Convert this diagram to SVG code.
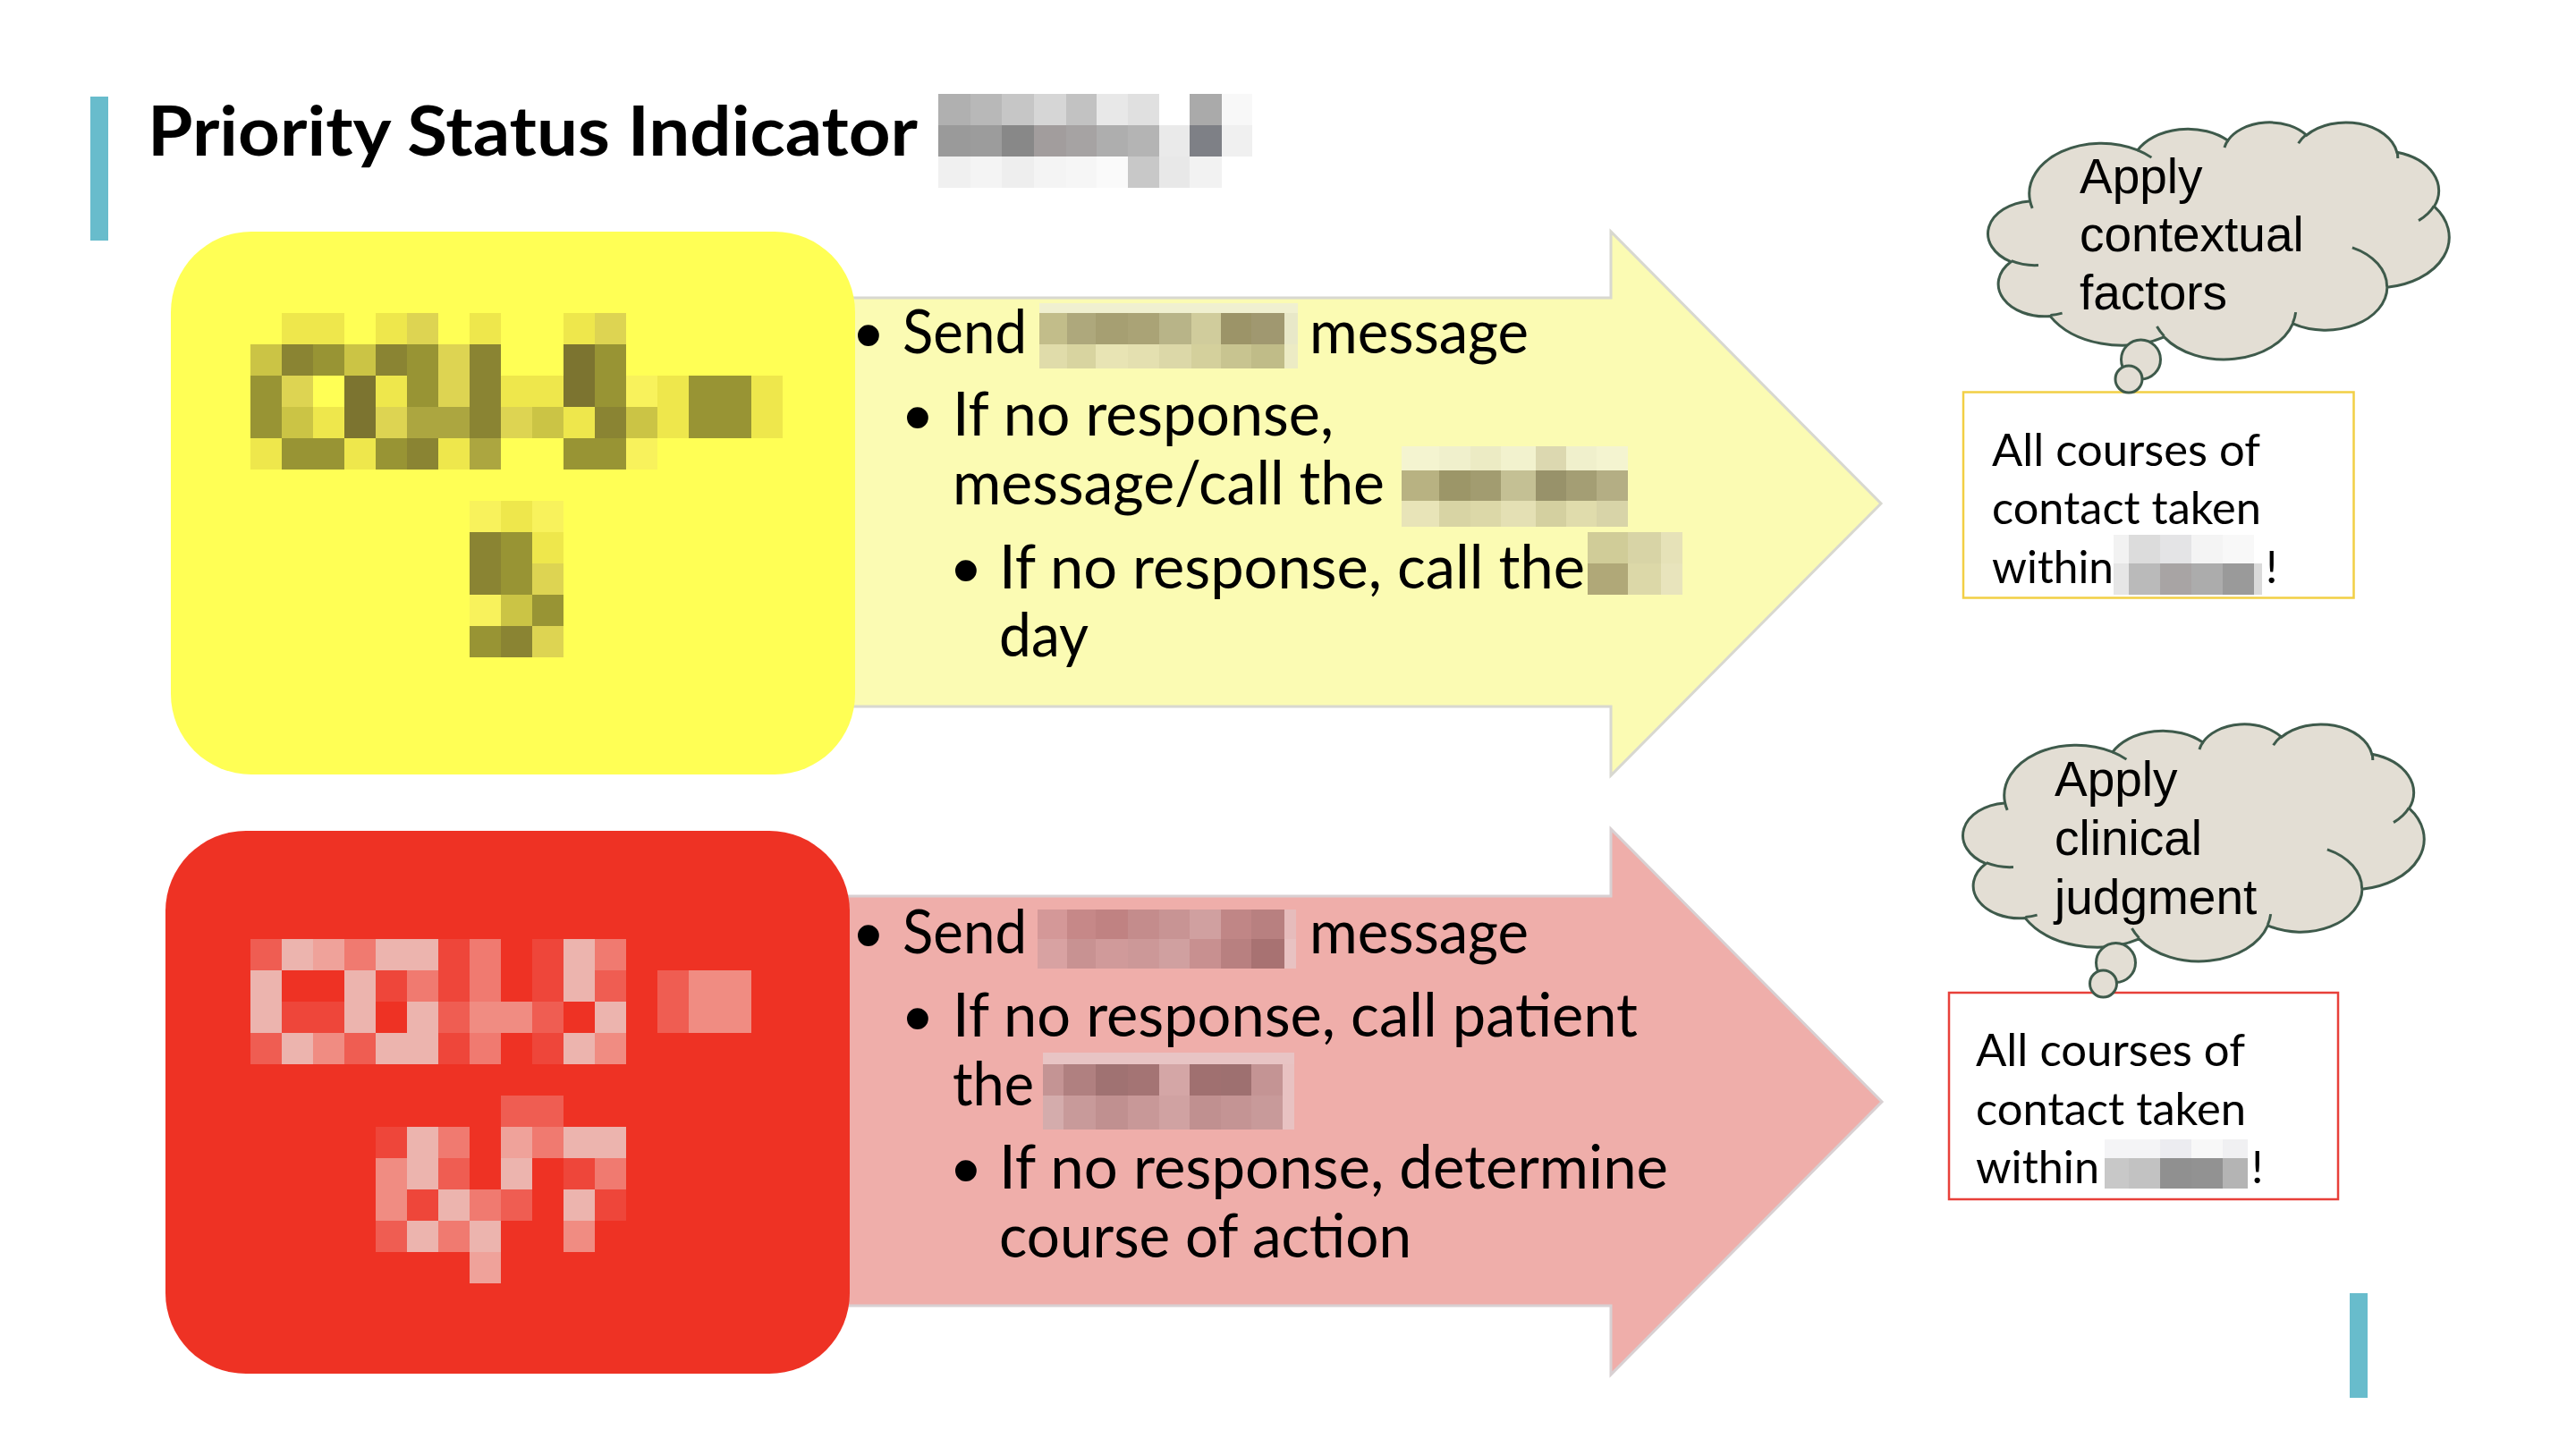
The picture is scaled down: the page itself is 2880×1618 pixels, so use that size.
<svg xmlns="http://www.w3.org/2000/svg" width="2880" height="1618" viewBox="0 0 2880 1618">
  <style>
    .ttl{font-family:Lato,"Open Sans","Liberation Sans",sans-serif;font-weight:700;font-size:77px;fill:#000}
    .bt{font-family:Lato,"Open Sans","Liberation Sans",sans-serif;font-size:67px;fill:#000}
    .bul{font-family:"Liberation Sans",Arial,sans-serif;font-size:88px;fill:#000;text-anchor:middle}
    .cl{font-family:"Liberation Sans",Arial,sans-serif;font-size:55px;fill:#000}
    .bx{font-family:Lato,"Open Sans","Liberation Sans",sans-serif;font-size:50px;fill:#000}
    .accent{fill:#68bccc}
    .cloud{fill:#e3ded4;stroke:#3e5a4b;stroke-width:3}
    .cloud-in{fill:none;stroke:#3e5a4b;stroke-width:3}
    .bubble{fill:#e3ded4;stroke:#3e5a4b;stroke-width:3}
    .arrow-y{fill:#fbfbb3;stroke:#d8d8d0;stroke-width:3}
    .arrow-r{fill:#efaeaa;stroke:#d8d0d2;stroke-width:3}
    .ya{fill:#f8f25c}.yb{fill:#eee74c}.yc{fill:#ddd452}.yd{fill:#cbc445}
    .ye{fill:#aca640}.yf{fill:#989434}.yg{fill:#8a8433}.yh{fill:#7c7430}
    .ra{fill:#ecb4ae}.rb{fill:#efa29a}.rc{fill:#f08c82}.rd{fill:#f07a70}
    .re{fill:#ef5d52}.rf{fill:#ee463a}
  </style>
  <defs>
    <!-- cloud outline in a 43200 x 43200 frame -->
    <path id="cloudShape" class="cloud" vector-effect="non-scaling-stroke" d="M3900 14370A6753 9190 0 0 1 14004 5202A5333 7267 0 0 1 22455 3432A4365 5945 0 0 1 29833 2481A4857 6595 0 0 1 38318 5577A5333 7273 0 0 1 41818 15461A6775 9220 0 0 1 37404 30203A5785 7867 0 0 1 28555 36813A6752 9215 0 0 1 16480 39266A7720 10543 0 0 1 5802 35470A4360 5918 0 0 1 2111 25548A4345 5945 0 0 1 3862 14504Z"/>
    <path id="cloudInner" class="cloud-in" vector-effect="non-scaling-stroke" d="M4693 26177A4345 5945 0 0 1 2160 25380M6928 34899A4360 5918 0 0 1 5820 35281M16478 39090A6752 9215 0 0 1 15810 37348M28827 34751A6752 9215 0 0 1 28560 36660M34129 22954A5785 7867 0 0 1 37380 30090M41798 15354A5333 7273 0 0 1 40350 18030M38324 5426A4857 6595 0 0 1 38400 6690M29078 3952A4857 6595 0 0 1 29820 2338M22141 4720A4365 5945 0 0 1 22500 3330M14000 5192A6753 9190 0 0 1 15301 6541M4127 15789A6753 9190 0 0 1 3900 14371"/>
  </defs>

  <rect x="0" y="0" width="2880" height="1618" fill="#ffffff"/>

  <!-- heading -->
  <g id="title">
    <rect class="accent" x="101" y="108" width="20" height="161"/>
    <text class="ttl" x="165" y="174" textLength="861" lengthAdjust="spacingAndGlyphs">Priority Status Indicator</text>
    <g id="title-mosaic">
      <rect x="1049" y="105" width="36" height="35" fill="#b0b0b0"/>
      <rect x="1085" y="105" width="35" height="35" fill="#b8b8b8"/>
      <rect x="1120" y="105" width="36" height="35" fill="#c6c6c6"/>
      <rect x="1156" y="105" width="36" height="35" fill="#d6d6d6"/>
      <rect x="1192" y="105" width="34" height="35" fill="#c2c2c2"/>
      <rect x="1226" y="105" width="35" height="35" fill="#e8e8e8"/>
      <rect x="1261" y="105" width="35" height="35" fill="#e0e0e0"/>
      <rect x="1330" y="105" width="36" height="35" fill="#aaaaaa"/>
      <rect x="1366" y="105" width="34" height="35" fill="#f8f8f8"/>
      <rect x="1049" y="140" width="36" height="35" fill="#9a9a9a"/>
      <rect x="1085" y="140" width="35" height="35" fill="#9c9c9c"/>
      <rect x="1120" y="140" width="36" height="35" fill="#888888"/>
      <rect x="1156" y="140" width="36" height="35" fill="#a29d9d"/>
      <rect x="1192" y="140" width="34" height="35" fill="#a6a3a3"/>
      <rect x="1226" y="140" width="35" height="35" fill="#aeaeae"/>
      <rect x="1261" y="140" width="35" height="35" fill="#b4b4b4"/>
      <rect x="1296" y="140" width="34" height="35" fill="#eaeaea"/>
      <rect x="1330" y="140" width="36" height="35" fill="#7e8086"/>
      <rect x="1366" y="140" width="34" height="35" fill="#f0f0f0"/>
      <rect x="1049" y="175" width="36" height="35" fill="#f0f0f0"/>
      <rect x="1085" y="175" width="35" height="35" fill="#f4f4f4"/>
      <rect x="1120" y="175" width="36" height="35" fill="#eeeeee"/>
      <rect x="1156" y="175" width="36" height="35" fill="#f4f4f4"/>
      <rect x="1192" y="175" width="34" height="35" fill="#f6f6f6"/>
      <rect x="1226" y="175" width="35" height="35" fill="#fafafa"/>
      <rect x="1261" y="175" width="35" height="35" fill="#c8c8c8"/>
      <rect x="1296" y="175" width="34" height="35" fill="#e8e8e8"/>
      <rect x="1330" y="175" width="36" height="35" fill="#f2f2f2"/>
    </g>
  </g>

  <!-- yellow block arrow with steps -->
  <g id="steps-yellow">
    <path class="arrow-y" d="M900 333H1801V259L2103 563L1801 867V790H900Z"/>
    <text class="bul" x="971" y="404">•</text>
    <text class="bt" x="1009" y="395" textLength="139" lengthAdjust="spacingAndGlyphs">Send</text>
    <g id="mosaic-ya">
      <rect x="1162" y="339" width="289" height="11" fill="#f0f0d0"/>
      <rect x="1162" y="350" width="31" height="35" fill="#c2bd8a"/>
      <rect x="1193" y="350" width="32" height="35" fill="#aea87c"/>
      <rect x="1225" y="350" width="36" height="35" fill="#a69f72"/>
      <rect x="1261" y="350" width="35" height="35" fill="#aaa376"/>
      <rect x="1296" y="350" width="36" height="35" fill="#b8b488"/>
      <rect x="1332" y="350" width="33" height="35" fill="#d0cc9c"/>
      <rect x="1365" y="350" width="34" height="35" fill="#9c9468"/>
      <rect x="1399" y="350" width="37" height="35" fill="#a09870"/>
      <rect x="1436" y="350" width="15" height="35" fill="#e8e8c8"/>
      <rect x="1162" y="385" width="31" height="27" fill="#e0dcaa"/>
      <rect x="1193" y="385" width="32" height="27" fill="#d8d4a0"/>
      <rect x="1225" y="385" width="36" height="27" fill="#e8e4b4"/>
      <rect x="1261" y="385" width="35" height="27" fill="#e4e0b0"/>
      <rect x="1296" y="385" width="36" height="27" fill="#dcd8a8"/>
      <rect x="1332" y="385" width="33" height="27" fill="#d4d09c"/>
      <rect x="1365" y="385" width="34" height="27" fill="#c8c490"/>
      <rect x="1399" y="385" width="37" height="27" fill="#c0bc88"/>
      <rect x="1436" y="385" width="15" height="27" fill="#ecebc4"/>
    </g>
    <text class="bt" x="1464" y="395" textLength="245" lengthAdjust="spacingAndGlyphs">message</text>
    <text class="bul" x="1026" y="496">•</text>
    <text class="bt" x="1065" y="487" textLength="426" lengthAdjust="spacingAndGlyphs">If no response,</text>
    <text class="bt" x="1065" y="564" textLength="483" lengthAdjust="spacingAndGlyphs">message/call the</text>
    <g id="mosaic-yb">
      <rect x="1567" y="499" width="42" height="27" fill="#f4f4d0"/>
      <rect x="1609" y="499" width="35" height="27" fill="#f0f0cc"/>
      <rect x="1644" y="499" width="34" height="27" fill="#ecebc4"/>
      <rect x="1678" y="499" width="39" height="27" fill="#f2f2ce"/>
      <rect x="1717" y="499" width="34" height="27" fill="#dcd8b0"/>
      <rect x="1751" y="499" width="34" height="27" fill="#f0f0cc"/>
      <rect x="1785" y="499" width="35" height="27" fill="#f4f4d0"/>
      <rect x="1567" y="526" width="42" height="34" fill="#b8b282"/>
      <rect x="1609" y="526" width="35" height="34" fill="#9c9668"/>
      <rect x="1644" y="526" width="34" height="34" fill="#a29c70"/>
      <rect x="1678" y="526" width="39" height="34" fill="#c4c094"/>
      <rect x="1717" y="526" width="34" height="34" fill="#98926a"/>
      <rect x="1751" y="526" width="34" height="34" fill="#a49e74"/>
      <rect x="1785" y="526" width="35" height="34" fill="#b4ae84"/>
      <rect x="1567" y="560" width="42" height="29" fill="#e8e4b8"/>
      <rect x="1609" y="560" width="35" height="29" fill="#d8d4a4"/>
      <rect x="1644" y="560" width="34" height="29" fill="#dcd8a8"/>
      <rect x="1678" y="560" width="39" height="29" fill="#e4e0b4"/>
      <rect x="1717" y="560" width="34" height="29" fill="#d4d0a0"/>
      <rect x="1751" y="560" width="34" height="29" fill="#e0dcac"/>
      <rect x="1785" y="560" width="35" height="29" fill="#d8d4a8"/>
    </g>
    <text class="bul" x="1080" y="667">•</text>
    <text class="bt" x="1117" y="658" textLength="655" lengthAdjust="spacingAndGlyphs">If no response, call the</text>
    <g id="mosaic-yc">
      <rect x="1775" y="595" width="45" height="35" fill="#d0cc98"/>
      <rect x="1820" y="595" width="37" height="35" fill="#d8d4a6"/>
      <rect x="1857" y="595" width="24" height="35" fill="#e6e2b8"/>
      <rect x="1775" y="630" width="45" height="35" fill="#b0a878"/>
      <rect x="1820" y="630" width="37" height="35" fill="#dcd8a8"/>
      <rect x="1857" y="630" width="24" height="35" fill="#e8e4bc"/>
    </g>
    <text class="bt" x="1117" y="734" textLength="100" lengthAdjust="spacingAndGlyphs">day</text>
  </g>

  <!-- yellow status tile -->
  <g id="status-yellow">
    <rect x="191" y="259" width="765" height="607" rx="90" ry="90" fill="#ffff55"/>
    <rect class="yb" x="315" y="350" width="35" height="35"/><rect class="yb" x="350" y="350" width="35" height="35"/>
    <rect class="yb" x="420" y="350" width="35" height="35"/><rect class="yc" x="455" y="350" width="35" height="35"/>
    <rect class="yb" x="525" y="350" width="35" height="35"/><rect class="yb" x="630" y="350" width="35" height="35"/>
    <rect class="yc" x="665" y="350" width="35" height="35"/>
    <rect class="yd" x="280" y="385" width="35" height="35"/><rect class="yg" x="315" y="385" width="35" height="35"/>
    <rect class="yf" x="350" y="385" width="35" height="35"/><rect class="yd" x="385" y="385" width="35" height="35"/>
    <rect class="yg" x="420" y="385" width="35" height="35"/><rect class="yf" x="455" y="385" width="35" height="35"/>
    <rect class="yc" x="490" y="385" width="35" height="35"/><rect class="yg" x="525" y="385" width="35" height="35"/>
    <rect class="yh" x="630" y="385" width="35" height="35"/><rect class="yf" x="665" y="385" width="35" height="35"/>
    <rect class="yf" x="280" y="420" width="35" height="35"/><rect class="yc" x="315" y="420" width="35" height="35"/>
    <rect class="yh" x="385" y="420" width="35" height="35"/><rect class="yb" x="420" y="420" width="35" height="35"/>
    <rect class="yf" x="455" y="420" width="35" height="35"/><rect class="yc" x="490" y="420" width="35" height="35"/>
    <rect class="yg" x="525" y="420" width="35" height="35"/><rect class="yb" x="560" y="420" width="35" height="35"/>
    <rect class="yb" x="595" y="420" width="35" height="35"/><rect class="yh" x="630" y="420" width="35" height="35"/>
    <rect class="yf" x="665" y="420" width="35" height="35"/><rect class="ya" x="700" y="420" width="35" height="35"/>
    <rect class="yb" x="735" y="420" width="35" height="35"/><rect class="yf" x="770" y="420" width="35" height="35"/>
    <rect class="yf" x="805" y="420" width="35" height="35"/><rect class="yb" x="840" y="420" width="35" height="35"/>
    <rect class="yf" x="280" y="455" width="35" height="35"/><rect class="yd" x="315" y="455" width="35" height="35"/>
    <rect class="yb" x="350" y="455" width="35" height="35"/><rect class="yh" x="385" y="455" width="35" height="35"/>
    <rect class="yc" x="420" y="455" width="35" height="35"/><rect class="ye" x="455" y="455" width="35" height="35"/>
    <rect class="ye" x="490" y="455" width="35" height="35"/><rect class="yg" x="525" y="455" width="35" height="35"/>
    <rect class="yc" x="560" y="455" width="35" height="35"/><rect class="yd" x="595" y="455" width="35" height="35"/>
    <rect class="yb" x="630" y="455" width="35" height="35"/><rect class="yg" x="665" y="455" width="35" height="35"/>
    <rect class="yd" x="700" y="455" width="35" height="35"/><rect class="yb" x="735" y="455" width="35" height="35"/>
    <rect class="yf" x="770" y="455" width="35" height="35"/><rect class="yf" x="805" y="455" width="35" height="35"/>
    <rect class="yb" x="840" y="455" width="35" height="35"/>
    <rect class="yb" x="280" y="490" width="35" height="35"/><rect class="yf" x="315" y="490" width="35" height="35"/>
    <rect class="yf" x="350" y="490" width="35" height="35"/><rect class="yb" x="385" y="490" width="35" height="35"/>
    <rect class="yf" x="420" y="490" width="35" height="35"/><rect class="yg" x="455" y="490" width="35" height="35"/>
    <rect class="yb" x="490" y="490" width="35" height="35"/><rect class="ye" x="525" y="490" width="35" height="35"/>
    <rect class="yf" x="630" y="490" width="35" height="35"/><rect class="yf" x="665" y="490" width="35" height="35"/>
    <rect class="ya" x="700" y="490" width="35" height="35"/>
    <rect class="ya" x="525" y="560" width="35" height="35"/><rect class="yb" x="560" y="560" width="35" height="35"/>
    <rect class="ya" x="595" y="560" width="35" height="35"/>
    <rect class="yg" x="525" y="595" width="35" height="35"/><rect class="yf" x="560" y="595" width="35" height="35"/>
    <rect class="yb" x="595" y="595" width="35" height="35"/>
    <rect class="yg" x="525" y="630" width="35" height="35"/><rect class="yf" x="560" y="630" width="35" height="35"/>
    <rect class="yc" x="595" y="630" width="35" height="35"/>
    <rect class="ya" x="525" y="665" width="35" height="35"/><rect class="yd" x="560" y="665" width="35" height="35"/>
    <rect class="yf" x="595" y="665" width="35" height="35"/>
    <rect class="yf" x="525" y="700" width="35" height="35"/><rect class="yg" x="560" y="700" width="35" height="35"/>
    <rect class="yc" x="595" y="700" width="35" height="35"/>
  </g>

  <!-- red block arrow with steps -->
  <g id="steps-red">
    <path class="arrow-r" d="M900 1002H1801V927L2104 1232L1801 1537V1460H900Z"/>
    <text class="bul" x="971" y="1075">•</text>
    <text class="bt" x="1009" y="1066" textLength="139" lengthAdjust="spacingAndGlyphs">Send</text>
    <g id="mosaic-ra">
      <rect x="1160" y="1017" width="33" height="33" fill="#d49898"/>
      <rect x="1193" y="1017" width="32" height="33" fill="#c68888"/>
      <rect x="1225" y="1017" width="36" height="33" fill="#c08282"/>
      <rect x="1261" y="1017" width="35" height="33" fill="#c48c8c"/>
      <rect x="1296" y="1017" width="34" height="33" fill="#c89494"/>
      <rect x="1330" y="1017" width="35" height="33" fill="#d0a0a0"/>
      <rect x="1365" y="1017" width="34" height="33" fill="#c08686"/>
      <rect x="1399" y="1017" width="37" height="33" fill="#b88080"/>
      <rect x="1436" y="1017" width="13" height="33" fill="#e6bcbc"/>
      <rect x="1160" y="1050" width="33" height="33" fill="#d8a2a2"/>
      <rect x="1193" y="1050" width="32" height="33" fill="#c89292"/>
      <rect x="1225" y="1050" width="36" height="33" fill="#d09a9a"/>
      <rect x="1261" y="1050" width="35" height="33" fill="#cc9898"/>
      <rect x="1296" y="1050" width="34" height="33" fill="#d0a0a0"/>
      <rect x="1330" y="1050" width="35" height="33" fill="#c89090"/>
      <rect x="1365" y="1050" width="34" height="33" fill="#b88080"/>
      <rect x="1399" y="1050" width="37" height="33" fill="#a87272"/>
      <rect x="1436" y="1050" width="13" height="33" fill="#e8c2c2"/>
    </g>
    <text class="bt" x="1464" y="1066" textLength="245" lengthAdjust="spacingAndGlyphs">message</text>
    <text class="bul" x="1026" y="1168">•</text>
    <text class="bt" x="1065" y="1159" textLength="766" lengthAdjust="spacingAndGlyphs">If no response, call patient</text>
    <text class="bt" x="1065" y="1236" textLength="91" lengthAdjust="spacingAndGlyphs">the</text>
    <g id="mosaic-rb">
      <rect x="1166" y="1177" width="281" height="13" fill="#e8c4c4"/>
      <rect x="1166" y="1190" width="23" height="35" fill="#c49494"/>
      <rect x="1189" y="1190" width="36" height="35" fill="#b08080"/>
      <rect x="1225" y="1190" width="36" height="35" fill="#a07272"/>
      <rect x="1261" y="1190" width="35" height="35" fill="#a47474"/>
      <rect x="1296" y="1190" width="34" height="35" fill="#d4a6a6"/>
      <rect x="1330" y="1190" width="35" height="35" fill="#a07070"/>
      <rect x="1365" y="1190" width="34" height="35" fill="#9e7070"/>
      <rect x="1399" y="1190" width="35" height="35" fill="#c49494"/>
      <rect x="1434" y="1190" width="13" height="35" fill="#e8c2c2"/>
      <rect x="1166" y="1225" width="23" height="38" fill="#d4acac"/>
      <rect x="1189" y="1225" width="36" height="38" fill="#c89a9a"/>
      <rect x="1225" y="1225" width="36" height="38" fill="#c09090"/>
      <rect x="1261" y="1225" width="35" height="38" fill="#c89898"/>
      <rect x="1296" y="1225" width="34" height="38" fill="#d0a2a2"/>
      <rect x="1330" y="1225" width="35" height="38" fill="#c09090"/>
      <rect x="1365" y="1225" width="34" height="38" fill="#c49494"/>
      <rect x="1399" y="1225" width="35" height="38" fill="#c89a9a"/>
      <rect x="1434" y="1225" width="13" height="38" fill="#e8c2c2"/>
    </g>
    <text class="bul" x="1080" y="1338">•</text>
    <text class="bt" x="1117" y="1329" textLength="748" lengthAdjust="spacingAndGlyphs">If no response, determine</text>
    <text class="bt" x="1117" y="1406" textLength="461" lengthAdjust="spacingAndGlyphs">course of action</text>
  </g>

  <!-- red status tile -->
  <g id="status-red">
    <rect x="185" y="929" width="765" height="607" rx="90" ry="90" fill="#ee3224"/>
    <rect class="re" x="280" y="1050" width="35" height="35"/><rect class="ra" x="315" y="1050" width="35" height="35"/>
    <rect class="rb" x="350" y="1050" width="35" height="35"/><rect class="rd" x="385" y="1050" width="35" height="35"/>
    <rect class="ra" x="420" y="1050" width="35" height="35"/><rect class="ra" x="455" y="1050" width="35" height="35"/>
    <rect class="rf" x="490" y="1050" width="35" height="35"/><rect class="rd" x="525" y="1050" width="35" height="35"/>
    <rect class="rf" x="595" y="1050" width="35" height="35"/><rect class="ra" x="630" y="1050" width="35" height="35"/>
    <rect class="rd" x="665" y="1050" width="35" height="35"/>
    <rect class="ra" x="280" y="1085" width="35" height="35"/><rect class="ra" x="385" y="1085" width="35" height="35"/>
    <rect class="rf" x="420" y="1085" width="35" height="35"/><rect class="rd" x="455" y="1085" width="35" height="35"/>
    <rect class="rf" x="490" y="1085" width="35" height="35"/><rect class="rd" x="525" y="1085" width="35" height="35"/>
    <rect class="rf" x="595" y="1085" width="35" height="35"/><rect class="ra" x="630" y="1085" width="35" height="35"/>
    <rect class="re" x="665" y="1085" width="35" height="35"/><rect class="re" x="735" y="1085" width="35" height="35"/>
    <rect class="rc" x="770" y="1085" width="35" height="35"/><rect class="rc" x="805" y="1085" width="35" height="35"/>
    <rect class="ra" x="280" y="1120" width="35" height="35"/><rect class="rf" x="315" y="1120" width="35" height="35"/>
    <rect class="rf" x="350" y="1120" width="35" height="35"/><rect class="ra" x="385" y="1120" width="35" height="35"/>
    <rect class="ra" x="455" y="1120" width="35" height="35"/><rect class="re" x="490" y="1120" width="35" height="35"/>
    <rect class="rc" x="525" y="1120" width="35" height="35"/><rect class="rc" x="560" y="1120" width="35" height="35"/>
    <rect class="re" x="595" y="1120" width="35" height="35"/><rect class="ra" x="665" y="1120" width="35" height="35"/>
    <rect class="re" x="735" y="1120" width="35" height="35"/><rect class="rc" x="770" y="1120" width="35" height="35"/>
    <rect class="rc" x="805" y="1120" width="35" height="35"/>
    <rect class="re" x="280" y="1155" width="35" height="35"/><rect class="ra" x="315" y="1155" width="35" height="35"/>
    <rect class="rc" x="350" y="1155" width="35" height="35"/><rect class="re" x="385" y="1155" width="35" height="35"/>
    <rect class="ra" x="420" y="1155" width="35" height="35"/><rect class="ra" x="455" y="1155" width="35" height="35"/>
    <rect class="rf" x="490" y="1155" width="35" height="35"/><rect class="rd" x="525" y="1155" width="35" height="35"/>
    <rect class="rf" x="595" y="1155" width="35" height="35"/><rect class="ra" x="630" y="1155" width="35" height="35"/>
    <rect class="rc" x="665" y="1155" width="35" height="35"/>
    <rect class="re" x="560" y="1225" width="35" height="35"/><rect class="re" x="595" y="1225" width="35" height="35"/>
    <rect class="rf" x="420" y="1260" width="35" height="35"/><rect class="ra" x="455" y="1260" width="35" height="35"/>
    <rect class="rd" x="490" y="1260" width="35" height="35"/><rect class="rb" x="560" y="1260" width="35" height="35"/>
    <rect class="rd" x="595" y="1260" width="35" height="35"/><rect class="ra" x="630" y="1260" width="35" height="35"/>
    <rect class="ra" x="665" y="1260" width="35" height="35"/>
    <rect class="rc" x="420" y="1295" width="35" height="35"/><rect class="ra" x="455" y="1295" width="35" height="35"/>
    <rect class="re" x="490" y="1295" width="35" height="35"/><rect class="ra" x="560" y="1295" width="35" height="35"/>
    <rect class="rf" x="630" y="1295" width="35" height="35"/><rect class="rd" x="665" y="1295" width="35" height="35"/>
    <rect class="rc" x="420" y="1330" width="35" height="35"/><rect class="rf" x="455" y="1330" width="35" height="35"/>
    <rect class="ra" x="490" y="1330" width="35" height="35"/><rect class="rd" x="525" y="1330" width="35" height="35"/>
    <rect class="re" x="560" y="1330" width="35" height="35"/><rect class="ra" x="630" y="1330" width="35" height="35"/>
    <rect class="rf" x="665" y="1330" width="35" height="35"/>
    <rect class="re" x="420" y="1365" width="35" height="35"/><rect class="ra" x="455" y="1365" width="35" height="35"/>
    <rect class="rd" x="490" y="1365" width="35" height="35"/><rect class="ra" x="525" y="1365" width="35" height="35"/>
    <rect class="rc" x="630" y="1365" width="35" height="35"/>
    <rect class="rb" x="525" y="1400" width="35" height="35"/>
  </g>

  <!-- note boxes -->
  <g id="note-yellow">
    <rect x="2195" y="438.5" width="436.5" height="230" fill="#ffffff" stroke="#f2cf45" stroke-width="2.5"/>
    <text class="bx" x="2227" y="521" textLength="300" lengthAdjust="spacingAndGlyphs">All courses of</text>
    <text class="bx" x="2227" y="586" textLength="301" lengthAdjust="spacingAndGlyphs">contact taken</text>
    <text class="bx" x="2227" y="652" textLength="136" lengthAdjust="spacingAndGlyphs">within</text>
    <rect x="2363" y="598" width="17" height="32" fill="#f2f2f2"/>
    <rect x="2380" y="598" width="35" height="32" fill="#dcdcdc"/>
    <rect x="2415" y="598" width="35" height="32" fill="#e4e4e6"/>
    <rect x="2450" y="598" width="35" height="32" fill="#f4f4f4"/>
    <rect x="2485" y="598" width="35" height="32" fill="#f8f8f8"/>
    <rect x="2363" y="630" width="17" height="35" fill="#e6e6e6"/>
    <rect x="2380" y="630" width="35" height="35" fill="#bababa"/>
    <rect x="2415" y="630" width="35" height="35" fill="#a8a4a4"/>
    <rect x="2450" y="630" width="35" height="35" fill="#acacac"/>
    <rect x="2485" y="630" width="35" height="35" fill="#9a9a9a"/>
    <rect x="2520" y="630" width="9" height="35" fill="#dadada"/>
    <text class="bx" x="2533" y="652">!</text>
  </g>
  <g id="note-red">
    <rect x="2179" y="1110" width="435" height="231" fill="#ffffff" stroke="#e8403a" stroke-width="2.5"/>
    <text class="bx" x="2209" y="1192" textLength="301" lengthAdjust="spacingAndGlyphs">All courses of</text>
    <text class="bx" x="2209" y="1258" textLength="302" lengthAdjust="spacingAndGlyphs">contact taken</text>
    <text class="bx" x="2209" y="1323" textLength="138" lengthAdjust="spacingAndGlyphs">within</text>
    <rect x="2353" y="1274" width="27" height="21" fill="#f4f4f6"/>
    <rect x="2380" y="1274" width="35" height="21" fill="#f4f4f6"/>
    <rect x="2415" y="1274" width="35" height="21" fill="#ececf0"/>
    <rect x="2450" y="1274" width="35" height="21" fill="#f8f8f8"/>
    <rect x="2485" y="1274" width="28" height="21" fill="#f0f0f2"/>
    <rect x="2353" y="1295" width="27" height="34" fill="#c8c8c8"/>
    <rect x="2380" y="1295" width="35" height="34" fill="#c2c2c2"/>
    <rect x="2415" y="1295" width="35" height="34" fill="#909090"/>
    <rect x="2450" y="1295" width="35" height="34" fill="#929292"/>
    <rect x="2485" y="1295" width="28" height="34" fill="#b4b4b4"/>
    <text class="bx" x="2517" y="1323">!</text>
  </g>

  <!-- thought clouds -->
  <g id="thought-context">
    <g transform="translate(2223 136) scale(0.0119213 0.0061343)">
      <use href="#cloudShape"/>
      <use href="#cloudInner"/>
    </g>
    <text class="cl" x="2325" y="216">Apply</text>
    <text class="cl" x="2325" y="281">contextual</text>
    <text class="cl" x="2325" y="346">factors</text>
  </g>
  <g id="thought-clinical">
    <g transform="translate(2195 809) scale(0.0119213 0.0061343)">
      <use href="#cloudShape"/>
      <use href="#cloudInner"/>
    </g>
    <text class="cl" x="2297" y="890">Apply</text>
    <text class="cl" x="2297" y="956">clinical</text>
    <text class="cl" x="2297" y="1022">judgment</text>
  </g>

  <!-- thought-bubble tails linking each cloud to its note -->
  <g id="connectors">
    <circle class="bubble" cx="2393.5" cy="402" r="22"/>
    <circle class="bubble" cx="2380" cy="424" r="15"/>
    <circle class="bubble" cx="2365.5" cy="1076.5" r="22"/>
    <circle class="bubble" cx="2351.5" cy="1100" r="15"/>
  </g>

  <rect id="footer-accent" class="accent" x="2627" y="1446" width="20" height="117"/>
</svg>
